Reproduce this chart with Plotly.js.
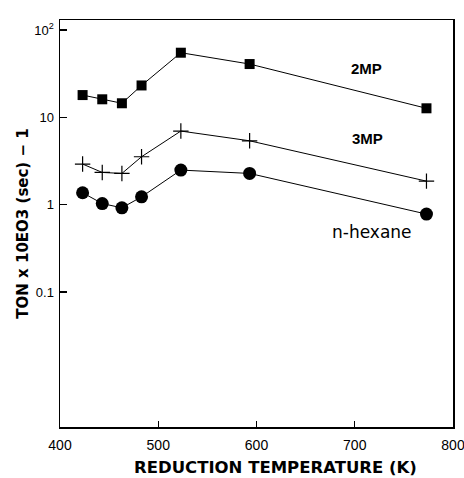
<!DOCTYPE html>
<html>
<head>
<meta charset="utf-8">
<script src="https://cdn.plot.ly/plotly-3.0.1.min.js"></script>
<style>html,body{margin:0;padding:0;background:#fff;}#chart{width:464px;height:478px;}</style>
</head>
<body>
<div id="chart"></div>
<script>
// Reduction temperatures (K)
var temperatures = [423, 443, 463, 483, 523, 593, 773];
// TON x 10^3 (sec^-1)
var ton2MP = [18.0, 16.1, 14.5, 23.2, 55, 40.8, 12.7];
var ton3MP = [2.92, 2.34, 2.28, 3.54, 6.97, 5.39, 1.86];
var tonHexane = [1.37, 1.03, 0.92, 1.23, 2.49, 2.28, 0.78];
var seriesNames = ['2MP', '3MP', 'n-hexane'];
var yTickVals = [0.1, 1, 10, 100];
var yTickText = ['0.1', '1', '10', '10<sup>2</sup>'];
var xTickVals = [400, 500, 600, 700, 800];

var lineStyle = {color: '#000', width: 1};
var traces = [
  {x: temperatures, y: ton2MP, name: seriesNames[0], type: 'scatter', mode: 'lines+markers',
   line: lineStyle, marker: {symbol: 'square', size: 10, color: '#000'}},
  {x: temperatures, y: ton3MP, name: seriesNames[1], type: 'scatter', mode: 'lines+markers',
   line: lineStyle, marker: {symbol: 'cross-thin', size: 11, color: '#000', line: {color: '#000', width: 1.2}}},
  {x: temperatures, y: tonHexane, name: seriesNames[2], type: 'scatter', mode: 'lines+markers',
   line: lineStyle, marker: {symbol: 'circle', size: 13, color: '#000'}}
];

var fontFam = 'Arial, "Liberation Sans", sans-serif';
var wideFam = '"DejaVu Sans", Arial, sans-serif';
var layout = {
  width: 464, height: 478,
  margin: {l: 60, r: 11, t: 20, b: 51},
  paper_bgcolor: '#fff', plot_bgcolor: '#fff',
  showlegend: false,
  font: {family: fontFam, color: '#000', size: 14},
  xaxis: {
    range: [400, 800], tickvals: xTickVals, ticks: 'inside', ticklen: 6, tickwidth: 1.2,
    tickcolor: '#000', showgrid: false, zeroline: false, showline: true, linecolor: '#000',
    linewidth: 1.5, mirror: true, tickfont: {size: 14, family: fontFam},
    ticklabeloverflow: 'allow', ticklabelstandoff: 5
  },
  yaxis: {
    type: 'log', range: [-2.546, 2.115], tickvals: yTickVals, ticktext: yTickText,
    ticks: 'inside', ticklen: 7, tickwidth: 1.2, tickcolor: '#000', showgrid: false,
    zeroline: false, showline: true, linecolor: '#000', linewidth: 1.5, mirror: true,
    tickfont: {size: 13, family: fontFam}, ticklabelstandoff: 2,
    title: {text: '<b>TON x 10EO3 (sec) \u2212 1</b>', standoff: 2,
            font: {size: 15, family: wideFam}}
  },
  annotations: [
    {text: '<b>REDUCTION TEMPERATURE (K)</b>', xref: 'paper', yref: 'paper',
     x: (275 - 60) / 393, y: (427 - 467.5) / 407, xanchor: 'center', yanchor: 'middle', showarrow: false,
     font: {size: 16.5, family: wideFam}},
    {text: '<b>' + seriesNames[0] + '</b>', xref: 'paper', yref: 'paper',
     x: (366 - 60) / 393, y: (427 - 68) / 407, xanchor: 'center', yanchor: 'middle',
     showarrow: false, font: {size: 15, family: fontFam}},
    {text: '<b>' + seriesNames[1] + '</b>', xref: 'paper', yref: 'paper',
     x: (367 - 60) / 393, y: (427 - 138) / 407, xanchor: 'center', yanchor: 'middle',
     showarrow: false, font: {size: 15, family: fontFam}},
    {text: seriesNames[2], xref: 'paper', yref: 'paper',
     x: (372 - 60) / 393, y: (427 - 232) / 407, xanchor: 'center', yanchor: 'middle',
     showarrow: false, font: {size: 17, family: wideFam}}
  ]
};
Plotly.newPlot('chart', traces, layout, {staticPlot: true, displayModeBar: false});
</script>
</body>
</html>
